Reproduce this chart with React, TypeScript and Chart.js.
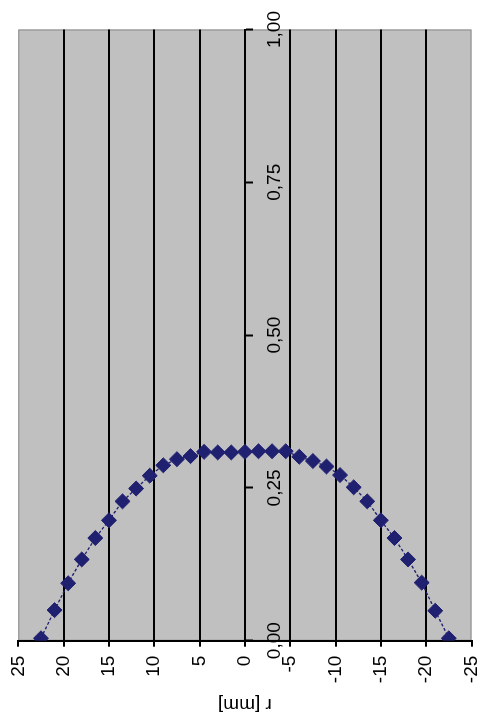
import React, { useEffect, useRef } from 'react';
import { Chart, registerables } from 'chart.js';

Chart.register(...registerables);

// radius positions [mm]
const radiusMm = [
  22.5, 21, 19.5, 18, 16.5, 15, 13.5, 12, 10.5, 9, 7.5, 6, 4.5, 3, 1.5, 0,
  -1.5, -3, -4.5, -6, -7.5, -9, -10.5, -12, -13.5, -15, -16.5, -18, -19.5, -21, -22.5,
];
// measured values
const intensity = [
  0.004, 0.05, 0.094, 0.133, 0.168, 0.197, 0.228, 0.249, 0.27, 0.287, 0.297, 0.302, 0.309, 0.308, 0.308, 0.309,
  0.31, 0.31, 0.31, 0.301, 0.294, 0.285, 0.271, 0.251, 0.228, 0.197, 0.168, 0.133, 0.095, 0.049, 0.004,
];
const rTicks = [25, 20, 15, 10, 5, 0, -5, -10, -15, -20, -25];
const rTickLabels = ['25', '20', '15', '10', '5', '0', '-5', '-10', '-15', '-20', '-25'];
const valueTicks = [0, 0.25, 0.5, 0.75, 1];
const valueTickLabels = ['0,00', '0,25', '0,50', '0,75', '1,00'];
const axisTitle = 'r [mm]';

const NAVY = '#202070';
const FONT = { family: '"Liberation Sans", Arial, sans-serif', size: 19 };

const plotBg = {
  id: 'plotBg',
  beforeDraw(chart: any) {
    const { ctx, chartArea: a } = chart;
    ctx.save();
    ctx.fillStyle = '#c0c0c0';
    ctx.fillRect(a.left, a.top, a.right - a.left, a.bottom - a.top);
    ctx.strokeStyle = '#8a8a8a';
    ctx.lineWidth = 1;
    ctx.strokeRect(a.left + 0.5, a.top + 0.5, a.right - a.left - 1, a.bottom - a.top - 1);
    ctx.restore();
  },
};

export default function App() {
  const ref = useRef<HTMLCanvasElement | null>(null);

  useEffect(() => {
    if (!ref.current) return;
    const data = radiusMm.map((r, i) => ({ x: intensity[i], y: r }));
    const chart = new Chart(ref.current, {
      type: 'scatter',
      data: {
        datasets: [
          {
            data,
            showLine: true,
            borderColor: NAVY,
            borderWidth: 1.3,
            borderDash: [3, 2],
            pointStyle: 'rectRot',
            pointRadius: 7.5,
            pointBackgroundColor: NAVY,
            pointBorderColor: NAVY,
            pointBorderWidth: 1,
          },
        ],
      },
      options: {
        animation: false,
        responsive: false,
        devicePixelRatio: 1,
        layout: { padding: { left: 0, right: 23.3, top: 18.3, bottom: 6.2 } },
        plugins: { legend: { display: false }, tooltip: { enabled: false } },
        scales: {
          x: {
            type: 'linear',
            position: { y: 0 } as any,
            min: 0,
            max: 1,
            afterBuildTicks: (s: any) => {
              s.ticks = valueTicks.map((v) => ({ value: v }));
            },
            ticks: {
              autoSkip: false,
              maxRotation: 0,
              minRotation: 0,
              padding: 11,
              color: '#000',
              font: FONT,
              callback: (v: any) => {
                const i = valueTicks.findIndex((t) => Math.abs(t - Number(v)) < 1e-9);
                return i >= 0 ? valueTickLabels[i] : '';
              },
            },
            grid: {
              drawOnChartArea: false,
              drawTicks: true,
              tickLength: 7,
              tickColor: '#000',
              tickWidth: 2,
            },
            border: { display: true, color: '#000', width: 2 },
          },
          y: {
            type: 'linear',
            position: 'left',
            min: -25,
            max: 25,
            afterBuildTicks: (s: any) => {
              s.ticks = rTicks.map((v) => ({ value: v }));
            },
            afterFit: (s: any) => {
              s.width = 79.3;
              s.paddingTop = 0;
              s.paddingBottom = 0;
            },
            ticks: {
              autoSkip: false,
              padding: 9,
              color: '#000',
              font: FONT,
              callback: (v: any) => {
                const i = rTicks.findIndex((t) => Math.abs(t - Number(v)) < 1e-9);
                return i >= 0 ? rTickLabels[i] : '';
              },
            },
            grid: {
              color: (c: any) =>
                c.tick && Math.abs(c.tick.value) === 25 ? 'rgba(0,0,0,0)' : '#000',
              lineWidth: 2,
              drawTicks: true,
              tickLength: 6,
              tickColor: '#000',
              tickWidth: 2,
            },
            border: { display: true, color: '#000', width: 2 },
            title: {
              display: true,
              text: axisTitle,
              color: '#000',
              font: FONT,
              padding: { top: 4, bottom: 0 },
            },
          },
        },
      },
      plugins: [plotBg],
    } as any);
    return () => chart.destroy();
  }, []);

  return (
    <div
      style={{
        position: 'absolute',
        left: 0,
        top: 0,
        width: 480,
        height: 720,
        overflow: 'hidden',
        background: '#fff',
      }}
    >
      <div
        style={{
          position: 'absolute',
          left: 0,
          top: 0,
          width: 720,
          height: 480,
          transformOrigin: '0 0',
          transform: 'translate(0px, 720px) rotate(-90deg)',
        }}
      >
        <canvas ref={ref} width={720} height={480} style={{ display: 'block' }} />
      </div>
    </div>
  );
}
